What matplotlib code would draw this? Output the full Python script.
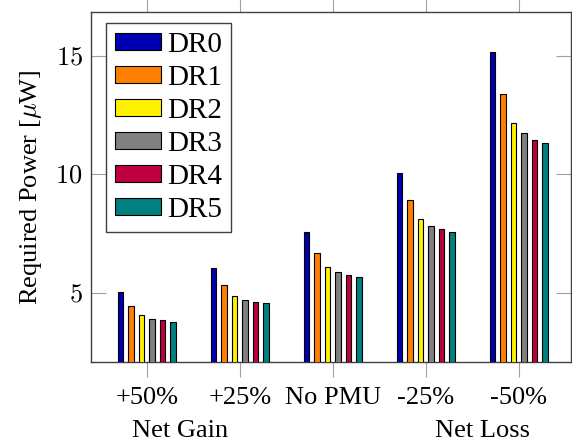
import numpy as np
import matplotlib
matplotlib.use("Agg")
import matplotlib.pyplot as plt

plt.rcParams['font.family'] = ['Liberation Serif', 'DejaVu Serif']
plt.rcParams['mathtext.fontset'] = 'cm'

categories = ['+50%', '+25%', 'No PMU', '-25%', '-50%']
series = ['DR0', 'DR1', 'DR2', 'DR3', 'DR4', 'DR5']
colors = ['#0000B3', '#FF8000', '#FFF200', '#808080', '#BF0040', '#008080']

# required power per scenario, one list per data rate
dr0 = [5.04, 6.04, 7.56, 10.05, 15.14]
dr1 = [4.45, 5.34, 6.69, 8.91, 13.37]
dr2 = [4.05, 4.86, 6.08, 8.11, 12.14]
dr3 = [3.90, 4.69, 5.86, 7.83, 11.72]
dr4 = [3.83, 4.59, 5.74, 7.68, 11.45]
dr5 = [3.77, 4.54, 5.66, 7.56, 11.32]
values = [dr0, dr1, dr2, dr3, dr4, dr5]

fig = plt.figure(figsize=(5.72, 4.42), dpi=100)
ax = fig.add_axes([0.159, 0.181, 0.839, 0.791])

x = np.arange(len(categories))
pitch = 0.1125
w = 0.06
for i, vals in enumerate(values):
    ax.bar(x + (i - 2.5) * pitch, vals, width=w, color=colors[i],
           edgecolor='black', linewidth=0.8, label=series[i], zorder=3)

ax.set_xlim(-0.6, 4.56)
ax.set_ylim(2.07, 16.83)
ax.set_xticks(x)
ax.set_xticklabels(categories, fontsize=19)
ax.set_yticks([5, 10, 15])
ax.set_yticklabels(['$5$', '$10$', '$15$'], fontsize=19)
ax.tick_params(axis='x', direction='out', length=11, color='#a0a0a0',
               top=True, pad=7)
ax.tick_params(axis='y', direction='in', length=11, color='#a0a0a0',
               right=True, pad=6)
for s in ax.spines.values():
    s.set_color('#404040')
    s.set_linewidth(1.0)

ax.set_ylabel(r'Required Power [$\mu$W]', fontsize=19, labelpad=8)

trans = matplotlib.transforms.blended_transform_factory(ax.transData, fig.transFigure)
ax.text(0.357, 0.025, 'Net Gain', transform=trans, ha='center', va='center', fontsize=19)
ax.text(3.615, 0.025, 'Net Loss', transform=trans, ha='center', va='center', fontsize=19)

leg = ax.legend(loc='upper left', bbox_to_anchor=(0.031, 0.969), fontsize=21,
                handlelength=1.58, handleheight=0.55, labelspacing=0.24,
                handletextpad=0.22, borderpad=0.3, borderaxespad=0,
                fancybox=False, framealpha=1)
leg.get_frame().set_edgecolor('#404040')
leg.get_frame().set_linewidth(1.0)

fig.savefig('out.png', dpi=100)
